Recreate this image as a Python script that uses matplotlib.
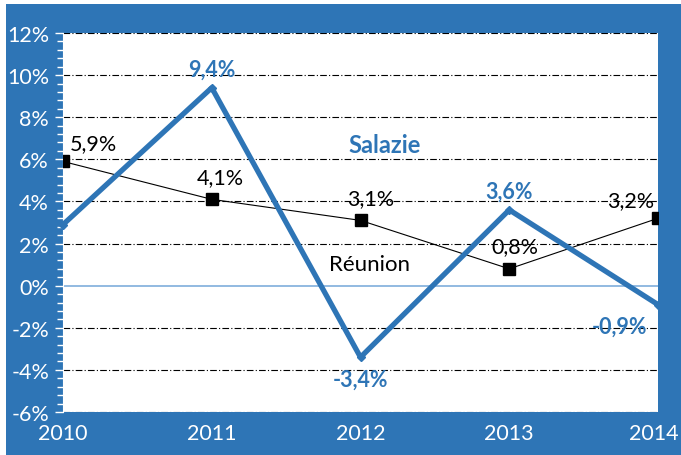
import matplotlib
matplotlib.use("Agg")
import matplotlib.pyplot as plt
from matplotlib.patches import Rectangle
from matplotlib.ticker import MultipleLocator, FuncFormatter
import matplotlib.transforms as mtransforms

years = [2010, 2011, 2012, 2013, 2014]
salazie = [2.9, 9.4, -3.4, 3.6, -0.9]
reunion = [5.9, 4.1, 3.1, 0.8, 3.2]
yticks = [-6, -4, -2, 0, 2, 4, 6, 8, 10, 12]

BLUE = "#2E75B6"
plt.rcParams['font.family'] = ['Lato', 'DejaVu Sans']

fig = plt.figure(figsize=(6.81, 4.56), dpi=100, facecolor="white")
fig.patches.append(Rectangle((6/681, 0), 1, 1 - 5/456, transform=fig.transFigure,
                             facecolor=BLUE, edgecolor="none", zorder=-10))
ax = fig.add_axes([63/681, (456-413)/456, (658-63)/681, (413-34)/456])
ax.set_facecolor("white")
ax.set_xlim(2010, 2014)
ax.set_ylim(-6, 12)

for y in yticks:
    if y == 0:
        ax.axhline(0, color="#7FAEDC", lw=1.2, zorder=1)
    else:
        ax.axhline(y, color="black", lw=0.8, ls=(0, (6, 2, 1, 2)), zorder=1)

ax.plot(years, reunion, color="black", lw=0.8, marker="s", ms=9, mfc="black", zorder=3)
ax.plot(years, salazie, color=BLUE, lw=3.8, marker="D", ms=4, zorder=4, clip_on=False)

ax.set_yticks(yticks)
ax.yaxis.set_minor_locator(MultipleLocator(0.4))
ax.yaxis.set_major_formatter(FuncFormatter(lambda v, p: f"{int(v)}%"))
ax.set_xticks(years)
ax.tick_params(axis="y", which="major", colors="white", labelsize=15.5, length=6, width=1, pad=4)
ax.tick_params(axis="y", which="minor", colors="white", length=4, width=1)
ax.tick_params(axis="x", colors="white", labelsize=15.5, length=0, pad=8)
for s in ["top", "right", "bottom"]:
    ax.spines[s].set_visible(False)
ax.spines["left"].set_color("white")

last = ax.get_xticklabels()[-1]
last.set_transform(last.get_transform() + mtransforms.ScaledTranslation(-4/100, 0, fig.dpi_scale_trans))

def fmt(v):
    return f"{v:.1f}".replace(".", ",") + "%"

# Salazie labels
s_off = {2011: (0, 6, "center", "bottom"), 2012: (0, -8, "center", "top"),
         2013: (0, 6, "center", "bottom"), 2014: (-28, -8, "center", "top")}
for x, v in zip(years, salazie):
    if x in s_off:
        dx, dy, ha, va = s_off[x]
        ax.annotate(fmt(v), (x, v), xytext=(dx, dy), textcoords="offset points",
                    ha=ha, va=va, color=BLUE, fontsize=15.5, fontweight="bold", zorder=5)

r_off = {2010: (22, 6, "center", "bottom"), 2011: (6, 9, "center", "bottom"),
         2012: (7, 9, "center", "bottom"), 2013: (4, 9, "center", "bottom"),
         2014: (-20, 6, "center", "bottom")}
for x, v in zip(years, reunion):
    dx, dy, ha, va = r_off[x]
    ax.annotate(fmt(v), (x, v), xytext=(dx, dy), textcoords="offset points",
                ha=ha, va=va, color="black", fontsize=15.5, zorder=5)

ax.text(2012.16, 6.7, "Salazie", color=BLUE, fontsize=17, fontweight="bold", ha="center", va="center")
ax.text(2012.06, 1.05, "Réunion", color="black", fontsize=16, ha="center", va="center")

fig.savefig("out.png", dpi=100, facecolor=fig.get_facecolor())
